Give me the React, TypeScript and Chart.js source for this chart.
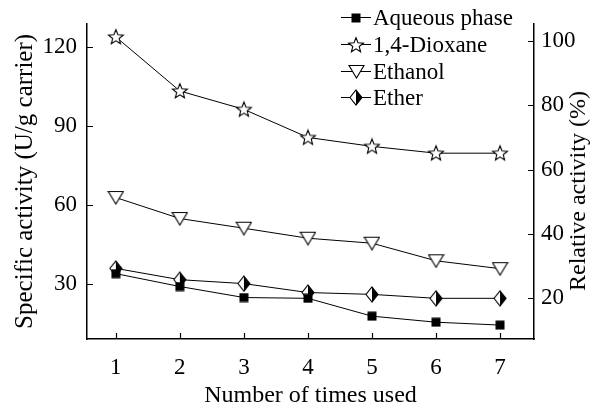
import React, { useEffect, useRef } from 'react';
import { Chart, registerables } from 'chart.js';

Chart.register(...registerables);

const timesUsed = [1, 2, 3, 4, 5, 6, 7];
const aqueousPhase = [33.8, 28.9, 24.7, 24.4, 17.6, 15.3, 14.2];
const dioxane = [124, 103.4, 96.4, 85.7, 82.3, 79.7, 79.7];
const ethanol = [62.8, 54.8, 51.1, 47.3, 45.4, 38.7, 35.7];
const ether = [35.8, 31.5, 30.0, 26.6, 25.9, 24.4, 24.4];
const seriesNames = ['Aqueous phase', '1,4-Dioxane', 'Ethanol', 'Ether'];
const leftTicks = [30, 60, 90, 120];
const rightTicks = [20, 40, 60, 80, 100];
const xTitle = 'Number of times used';
const leftTitle = 'Specific activity (U/g carrier)';
const rightTitle = 'Relative activity (%)';

const LEFT_MIN = 8.9;
const LEFT_MAX = 129;
const REL_FACTOR = 1.224; // U/g per 1 % relative activity

const FONT = "'Liberation Serif', 'Times New Roman', serif";
const LEGEND_X = 373;
const LEGEND_Y0 = 17;
const LEGEND_DY = 26.8;

Chart.defaults.font.family = FONT;
Chart.defaults.color = '#000';

function makeCanvas(w: number, h: number) {
  const c = document.createElement('canvas');
  c.width = w;
  c.height = h;
  return c;
}

function makeSquare() {
  const c = makeCanvas(10, 10);
  const g = c.getContext('2d')!;
  g.fillStyle = '#000';
  g.fillRect(0.5, 0.5, 9, 9);
  return c;
}

function makeStar() {
  const c = makeCanvas(18, 18);
  const g = c.getContext('2d')!;
  const cx = 9, cy = 9.5, R = 7.8, r = 3.4;
  g.beginPath();
  for (let i = 0; i < 10; i++) {
    const rad = i % 2 === 0 ? R : r;
    const a = -Math.PI / 2 + (i * Math.PI) / 5;
    const x = cx + rad * Math.cos(a);
    const y = cy + rad * Math.sin(a);
    if (i === 0) g.moveTo(x, y);
    else g.lineTo(x, y);
  }
  g.closePath();
  g.fillStyle = '#fff';
  g.fill();
  g.strokeStyle = '#000';
  g.lineWidth = 1.1;
  g.stroke();
  return c;
}

function makeTriangle() {
  const c = makeCanvas(17, 15);
  const g = c.getContext('2d')!;
  g.beginPath();
  g.moveTo(1, 1.5);
  g.lineTo(16, 1.5);
  g.lineTo(8.5, 14);
  g.closePath();
  g.fillStyle = '#fff';
  g.fill();
  g.strokeStyle = '#000';
  g.lineWidth = 1.1;
  g.stroke();
  return c;
}

function makeDiamond() {
  const c = makeCanvas(14, 17);
  const g = c.getContext('2d')!;
  const outline = () => {
    g.beginPath();
    g.moveTo(7, 1);
    g.lineTo(13, 8.5);
    g.lineTo(7, 16);
    g.lineTo(1, 8.5);
    g.closePath();
  };
  outline();
  g.fillStyle = '#fff';
  g.fill();
  g.beginPath();
  g.moveTo(7, 1);
  g.lineTo(13, 8.5);
  g.lineTo(7, 16);
  g.closePath();
  g.fillStyle = '#000';
  g.fill();
  outline();
  g.strokeStyle = '#000';
  g.lineWidth = 1.1;
  g.stroke();
  return c;
}

const inwardTicks = {
  id: 'inwardTicks',
  afterDraw(chart: any) {
    const { ctx, chartArea, scales } = chart;
    ctx.save();
    ctx.strokeStyle = '#000';
    ctx.lineWidth = 1.2;
    ctx.beginPath();
    scales.y.ticks.forEach((t: any) => {
      const y = Math.round(scales.y.getPixelForValue(t.value)) + 0.5;
      ctx.moveTo(chartArea.left, y);
      ctx.lineTo(chartArea.left + 6, y);
    });
    scales.y1.ticks.forEach((t: any) => {
      const y = Math.round(scales.y1.getPixelForValue(t.value)) + 0.5;
      ctx.moveTo(chartArea.right, y);
      ctx.lineTo(chartArea.right - 6, y);
    });
    scales.x.ticks.forEach((t: any) => {
      const x = Math.round(scales.x.getPixelForValue(t.value)) + 0.5;
      ctx.moveTo(x, chartArea.bottom);
      ctx.lineTo(x, chartArea.bottom - 6);
    });
    ctx.stroke();
    ctx.restore();
  },
};

// legend symbols (line + marker); the labels are HTML text overlaid
const legendSymbols = {
  id: 'legendSymbols',
  afterDraw(chart: any) {
    const { ctx } = chart;
    ctx.save();
    chart.data.datasets.forEach((ds: any, i: number) => {
      const y = Math.round(LEGEND_Y0 + i * LEGEND_DY);
      ctx.strokeStyle = '#000';
      ctx.lineWidth = 1;
      ctx.beginPath();
      ctx.moveTo(341, y + 0.5);
      ctx.lineTo(371, y + 0.5);
      ctx.stroke();
      const img = ds.pointStyle as HTMLCanvasElement;
      ctx.drawImage(img, Math.round(356 - img.width / 2), Math.round(y - img.height / 2 + 0.5));
    });
    ctx.restore();
  },
};

export default function App() {
  const ref = useRef<HTMLCanvasElement | null>(null);

  useEffect(() => {
    document.body.style.margin = '0';
    const canvas = ref.current!;
    const markers = [makeSquare(), makeStar(), makeTriangle(), makeDiamond()];
    const seriesValues = [aqueousPhase, dioxane, ethanol, ether];
    const datasets = seriesValues.map((vals, i) => ({
      label: seriesNames[i],
      data: vals.map((v, k) => ({ x: timesUsed[k], y: v })),
      borderColor: '#000',
      borderWidth: 1,
      backgroundColor: '#000',
      pointStyle: markers[i],
      pointRadius: 6,
      pointHoverRadius: 6,
      showLine: true,
      tension: 0,
      yAxisID: 'y',
    }));

    const tickFont = { family: FONT, size: 23 };

    const chart = new Chart(canvas, {
      type: 'line',
      data: { datasets },
      plugins: [inwardTicks, legendSymbols],
      options: {
        animation: false,
        responsive: false,
        devicePixelRatio: 1,
        layout: { padding: { top: 20, right: 0, left: 0, bottom: 0 } },
        plugins: {
          legend: { display: false },
          tooltip: { enabled: false },
        },
        scales: {
          x: {
            type: 'linear',
            min: 0.55,
            max: 7.53,
            afterBuildTicks: (s: any) => {
              s.ticks = timesUsed.map((v) => ({ value: v }));
            },
            afterFit: (s: any) => {
              s.height = 71;
            },
            grid: { display: false, drawTicks: false },
            border: { display: true, color: '#000', width: 1.5 },
            ticks: {
              color: '#000',
              font: tickFont,
              padding: 15,
              maxRotation: 0,
              autoSkip: false,
              callback: (v: any) => String(v),
            },
            title: {
              display: true,
              text: xTitle,
              color: '#000',
              font: { family: FONT, size: 24 },
              padding: { top: 0, bottom: 0 },
            },
          },
          y: {
            type: 'linear',
            position: 'left',
            min: LEFT_MIN,
            max: LEFT_MAX,
            afterBuildTicks: (s: any) => {
              s.ticks = leftTicks.map((v) => ({ value: v }));
            },
            afterFit: (s: any) => {
              s.width = 87;
            },
            grid: { display: false, drawTicks: false },
            border: { display: true, color: '#000', width: 1.5 },
            ticks: {
              color: '#000',
              font: tickFont,
              padding: 10,
              callback: (v: any) => String(v),
            },
            title: {
              display: true,
              text: leftTitle,
              color: '#000',
              font: { family: FONT, size: 25 },
              padding: { top: 10, bottom: 0 },
            },
          },
          y1: {
            type: 'linear',
            position: 'right',
            display: true,
            min: LEFT_MIN / REL_FACTOR,
            max: LEFT_MAX / REL_FACTOR,
            afterBuildTicks: (s: any) => {
              s.ticks = rightTicks.map((v) => ({ value: v }));
            },
            afterFit: (s: any) => {
              s.width = 67;
            },
            grid: { display: false, drawTicks: false },
            border: { display: true, color: '#000', width: 1.5 },
            ticks: {
              color: '#000',
              font: tickFont,
              padding: 7,
              callback: (v: any) => String(v),
            },
          },
        },
      } as any,
    });
    return () => chart.destroy();
  }, []);

  const textStyle: React.CSSProperties = {
    position: 'absolute',
    fontFamily: FONT,
    color: '#000',
    whiteSpace: 'nowrap',
    lineHeight: '26px',
    margin: 0,
    padding: 0,
    pointerEvents: 'none',
  };

  return (
    <div style={{ width: 601, height: 410, position: 'relative', background: '#fff' }}>
      <canvas ref={ref} width={601} height={410} style={{ display: 'block', width: 601, height: 410 }} />
      {seriesNames.map((name, i) => (
        <div
          key={name}
          style={{
            ...textStyle,
            left: LEGEND_X,
            top: Math.round(LEGEND_Y0 + i * LEGEND_DY) + 1,
            fontSize: 23,
            transform: 'translateY(-50%)',
          }}
        >
          {name}
        </div>
      ))}
      <div
        style={{
          ...textStyle,
          left: 577,
          top: 191,
          fontSize: 24,
          transform: 'translate(-50%, -50%) rotate(-90deg)',
        }}
      >
        {rightTitle}
      </div>
    </div>
  );
}
